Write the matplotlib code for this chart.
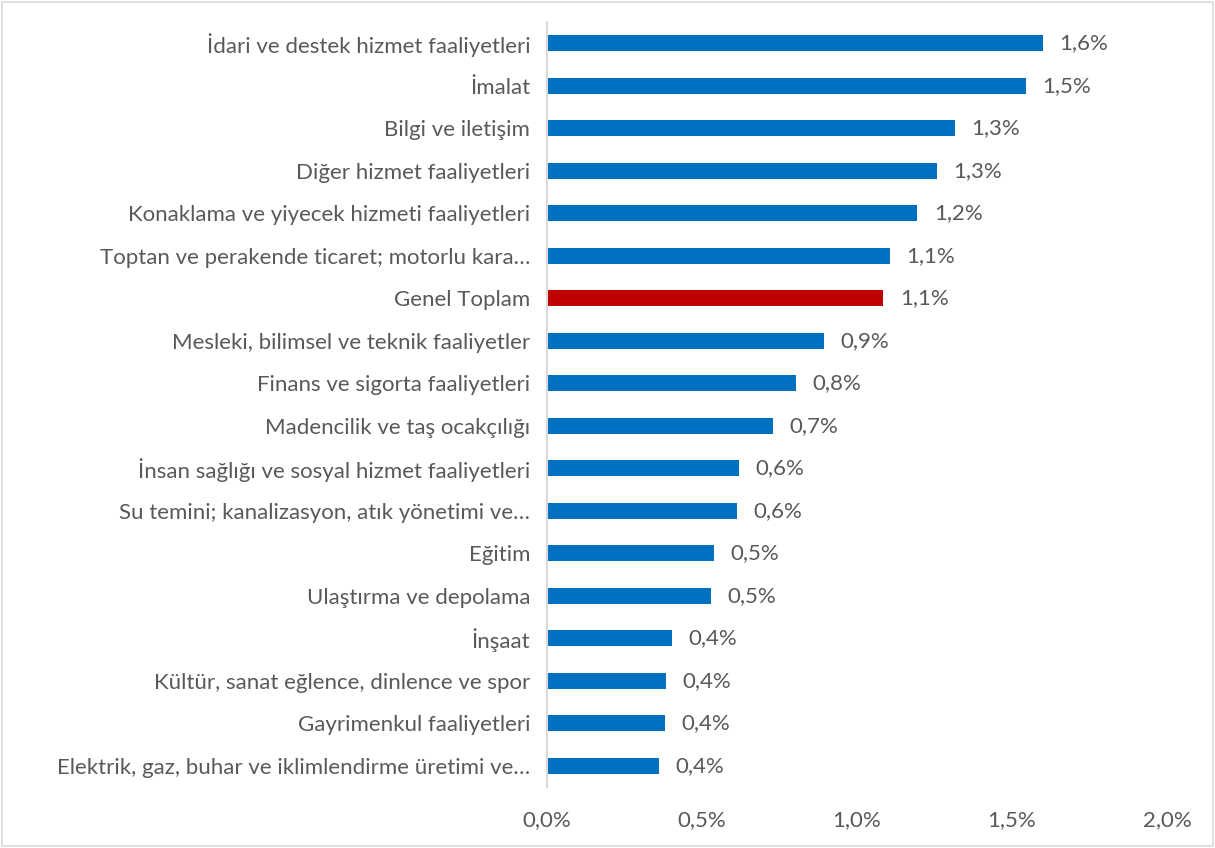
import matplotlib
matplotlib.use("Agg")
import matplotlib.pyplot as plt
from matplotlib.patches import Rectangle

categories = [
    "İdari ve destek hizmet faaliyetleri",
    "İmalat",
    "Bilgi ve iletişim",
    "Diğer hizmet faaliyetleri",
    "Konaklama ve yiyecek hizmeti faaliyetleri",
    "Toptan ve perakende ticaret; motorlu kara…",
    "Genel Toplam",
    "Mesleki, bilimsel ve teknik faaliyetler",
    "Finans ve sigorta faaliyetleri",
    "Madencilik ve taş ocakçılığı",
    "İnsan sağlığı ve sosyal hizmet faaliyetleri",
    "Su temini; kanalizasyon, atık yönetimi ve…",
    "Eğitim",
    "Ulaştırma ve depolama",
    "İnşaat",
    "Kültür, sanat eğlence, dinlence ve spor",
    "Gayrimenkul faaliyetleri",
    "Elektrik, gaz, buhar ve iklimlendirme üretimi ve…",
]
values = [1.60, 1.545, 1.316, 1.258, 1.194, 1.106, 1.084, 0.894, 0.803, 0.729,
          0.619, 0.613, 0.539, 0.529, 0.403, 0.384, 0.381, 0.361]
xticks = [0.0, 0.5, 1.0, 1.5, 2.0]

highlight = "Genel Toplam"
blue = "#0070C0"
red = "#C00000"
txt = "#595959"

plt.rcParams['font.family'] = ['Lato', 'DejaVu Sans']

fig = plt.figure(figsize=(12.15, 8.48), dpi=100)
fig.patches.append(Rectangle((0.002, 0.002), 0.996, 0.996, transform=fig.transFigure,
                             fill=False, edgecolor="#D9D9D9", linewidth=1.2))
ax = fig.add_axes([0.4502, 0.0720, 0.5103, 0.9020])

n = len(categories)
ypos = list(range(n))
colors = [red if c == highlight else blue for c in categories]
ax.barh(ypos, values, height=0.38, color=colors)
ax.set_ylim(n - 0.5, -0.5)
ax.set_xlim(0, 2.0)
ax.set_yticks(ypos)
ax.set_yticklabels(categories, fontsize=16, color=txt)
ax.set_xticks(xticks)
ax.set_xticklabels([f"{t:.1f}%".replace(".", ",") for t in xticks], fontsize=16, color=txt)
ax.tick_params(axis='y', length=0, pad=12)
ax.tick_params(axis='x', length=0, pad=17)
for s in ["top", "right", "bottom"]:
    ax.spines[s].set_visible(False)
ax.spines["left"].set_color("#D9D9D9")
ax.spines["left"].set_linewidth(1.5)

for y, v in zip(ypos, values):
    ax.annotate(f"{v:.1f}%".replace(".", ","), (v, y), xytext=(12, 0),
                textcoords="offset points", va="center", ha="left",
                fontsize=16, color=txt)

fig.savefig("out.png", dpi=100)
